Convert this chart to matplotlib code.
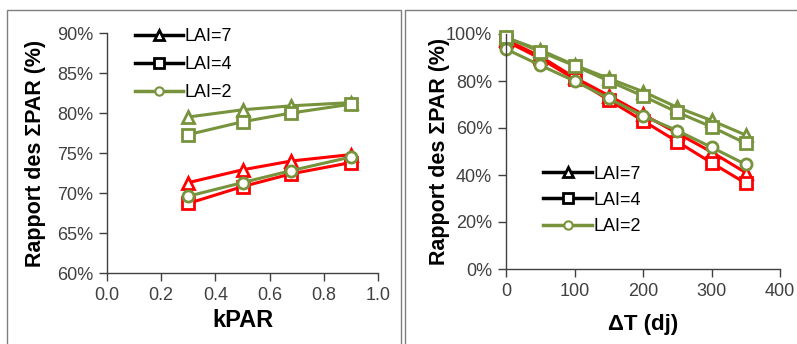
import matplotlib.pyplot as plt
from matplotlib.lines import Line2D
from matplotlib.patches import Rectangle
from matplotlib.ticker import FuncFormatter, MultipleLocator

plt.rcParams['font.family'] = ['Liberation Sans', 'DejaVu Sans']

GREEN = '#77933C'
RED = '#FF0000'

# left panel: ratio vs kPAR
kpar = [0.3, 0.5, 0.68, 0.9]
k_green_lai7 = [79.5, 80.4, 80.9, 81.3]
k_green_lai4 = [77.3, 78.9, 80.0, 81.1]
k_red_lai7 = [71.3, 72.9, 74.0, 74.8]
k_red_lai4 = [68.7, 70.8, 72.4, 73.8]
k_green_lai2 = [69.6, 71.3, 72.8, 74.5]

# right panel: ratio vs delta T
dt = [0, 50, 100, 150, 200, 250, 300, 350]
t_red_lai7 = [97.5, 90.5, 81.5, 73.8, 65.8, 57.8, 49.8, 41.0]
t_red_lai4 = [97.0, 89.6, 80.9, 71.9, 63.1, 54.2, 45.2, 36.5]
t_green_lai7 = [98.5, 93.2, 86.8, 81.1, 75.5, 68.8, 63.2, 57.0]
t_green_lai4 = [98.6, 92.5, 86.5, 80.0, 73.6, 66.7, 60.5, 53.5]
t_green_lai2 = [93.6, 86.7, 80.0, 72.6, 65.1, 58.9, 51.8, 44.5]

fig = plt.figure(figsize=(7.97, 3.44), dpi=100)

# panel frames
fig.add_artist(Rectangle((7/797, -0.05), (401-7)/797, 1.05 - 10/344,
                         transform=fig.transFigure, fill=False,
                         edgecolor='#7f7f7f', lw=1.0))
fig.add_artist(Rectangle((405/797, -0.05), 0.6, 1.05 - 10/344,
                         transform=fig.transFigure, fill=False,
                         edgecolor='#7f7f7f', lw=1.0))

ax1 = fig.add_axes([107/797, 1 - 273/344, (378-107)/797, (273-33)/344])
ax2 = fig.add_axes([506/797, 1 - 269/344, (780-506)/797, (269-34)/344])


def series(ax, x, y, color, marker, ms):
    ax.plot(x, y, color=color, marker=marker, ms=ms, mew=2.0,
            mfc='white', mec=color, lw=2.2, clip_on=False)


series(ax1, kpar, k_red_lai7, RED, '^', 8.5)
series(ax1, kpar, k_red_lai4, RED, 's', 8.5)
series(ax1, kpar, k_green_lai7, GREEN, '^', 8.5)
series(ax1, kpar, k_green_lai4, GREEN, 's', 8.5)
series(ax1, kpar, k_green_lai2, GREEN, 'o', 8)

series(ax2, dt, t_red_lai7, RED, '^', 8.5)
series(ax2, dt, t_red_lai4, RED, 's', 8.5)
series(ax2, dt, t_green_lai7, GREEN, '^', 8.5)
series(ax2, dt, t_green_lai4, GREEN, 's', 8.5)
series(ax2, dt, t_green_lai2, GREEN, 'o', 8)

pct = FuncFormatter(lambda v, p: f'{v:.0f}%')

ax1.set_xlim(0, 1.0)
ax1.set_ylim(60, 90)
ax1.xaxis.set_major_locator(MultipleLocator(0.2))
ax1.yaxis.set_major_locator(MultipleLocator(5))
ax1.xaxis.set_major_formatter(FuncFormatter(lambda v, p: f'{v:.1f}'))
ax1.yaxis.set_major_formatter(pct)
ax1.set_xlabel('kPAR', fontsize=17, fontweight='bold', labelpad=4)
ax1.set_ylabel('Rapport des ΣPAR (%)', fontsize=15.5, fontweight='bold',
               labelpad=8)

ax2.set_xlim(0, 400)
ax2.set_ylim(0, 100)
ax2.xaxis.set_major_locator(MultipleLocator(100))
ax2.yaxis.set_major_locator(MultipleLocator(20))
ax2.yaxis.set_major_formatter(pct)
ax2.set_xlabel('ΔT (dj)', fontsize=16, fontweight='bold', labelpad=10)
ax2.set_ylabel('Rapport des ΣPAR (%)', fontsize=15.5, fontweight='bold',
               labelpad=-3)

for ax in (ax1, ax2):
    for s in ('top', 'right'):
        ax.spines[s].set_visible(False)
    for s in ('left', 'bottom'):
        ax.spines[s].set_color('#404040')
        ax.spines[s].set_linewidth(1.0)
    ax.tick_params(direction='out', length=6, width=1.0, color='#404040',
                   labelsize=13, labelcolor='#404040', pad=4)

handles = [
    Line2D([], [], color='black', marker='^', ms=7, mew=2, mfc='white', lw=2.5),
    Line2D([], [], color='black', marker='s', ms=7, mew=2, mfc='white', lw=2.5),
    Line2D([], [], color=GREEN, marker='o', ms=6, mew=1.5, mfc='white', lw=2.5),
]
labels = ['LAI=7', 'LAI=4', 'LAI=2']

ax1.legend(handles, labels, loc='upper left', bbox_to_anchor=(0.075, 1.05),
           frameon=False, fontsize=13, handlelength=2.7, handletextpad=0.05,
           labelspacing=0.6, borderaxespad=0)
ax2.legend(handles, labels, loc='upper left', bbox_to_anchor=(0.11, 0.47),
           frameon=False, fontsize=13, handlelength=2.7, handletextpad=0.05,
           labelspacing=0.5, borderaxespad=0)

fig.savefig('out.png', dpi=100)
